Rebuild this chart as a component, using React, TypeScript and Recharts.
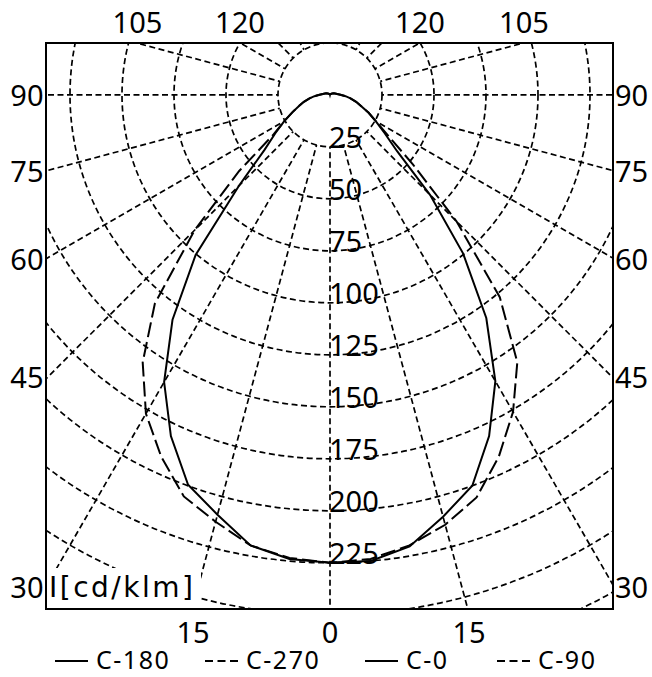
import React from 'react';
import { RadarChart, Radar, PolarGrid, PolarAngleAxis, PolarRadiusAxis } from 'recharts';

// gamma angles (deg from nadir) and intensities in cd/klm
const GAMMA = [0, 5, 10, 15, 20, 25, 30, 35, 40, 45, 50, 55, 60, 65, 70, 75, 80, 85, 90, 100, 110, 120, 135, 150, 165, 180];
const C0 = [225, 225, 220.5, 210, 200, 181, 159, 131, 99.5, 68, 42, 32, 25.5, 20.5, 16, 13, 10, 7.5, 5, 3, 2, 1.2, 0.6, 0.3, 0.1, 0];
const C90 = [225, 224, 220, 214, 206, 192, 176, 157, 127, 86, 52, 34, 25.5, 20.5, 16, 13, 10, 7.5, 5, 3, 2, 1.2, 0.6, 0.3, 0.1, 0];
const C180 = [225, 224, 220, 209, 199.5, 181, 159.5, 132, 100.5, 62, 41, 32, 25.5, 20, 16, 13, 10, 7.5, 5, 3, 2, 1.2, 0.6, 0.3, 0.1, 0];
const C270 = [225, 223.5, 220, 212.5, 205.5, 192, 177, 157, 131, 92, 57, 33, 25.5, 20, 16, 13, 10, 7.5, 5, 3, 2, 1.2, 0.6, 0.3, 0.1, 0];

const RADIUS_TICKS = [25, 50, 75, 100, 125, 150, 175, 200, 225, 250, 275, 300];
const ANGLE_TICKS = [-180, -165, -150, -135, -120, -105, -90, -75, -60, -45, -30, -15, 0, 15, 30, 45, 60, 75, 90, 105, 120, 135, 150, 165];

const SIDE_LABELS = ['90', '75', '60', '45', '30'];
const TOP_LABELS = ['105', '120', '120', '105'];
const BOTTOM_LABELS = ['15', '0', '15'];

const LEGEND = [
    { label: 'C-180', dashed: false },
    { label: 'C-270', dashed: true },
    { label: 'C-0', dashed: false },
    { label: 'C-90', dashed: true },
];

// one closed loop per plane: left half (negative angle) C-180 / C-270, right half C-0 / C-90
const rows = [
    ...GAMMA.slice(1).map((g, i) => ({ a: -g, solid: C180[i + 1], dashed: C270[i + 1] })).reverse(),
    { a: 0, solid: C0[0], dashed: C90[0] },
    ...GAMMA.slice(1).map((g, i) => ({ a: g, solid: C0[i + 1], dashed: C90[i + 1] })),
];

const FONT = '"Noto Sans", sans-serif';
const GRID_DASH = '6 3.5';

const renderRadiusTick = (p: any) => {
    if (p.payload.value > 225) return <g />;
    return (
        <text x={p.x - 1} y={p.y + 1.5} fontSize={29} fontFamily={FONT} fill="#000" textAnchor="start">
            {p.payload.value}
        </text>
    );
};

export default function App() {
    return (
        <div style={{ position: 'relative', width: 652, height: 677, background: '#fff' }}>
            <style>{'html,body{margin:0;padding:0;overflow:hidden;background:#fff}'}</style>
            <div style={{ position: 'absolute', left: 45, top: 42, width: 569, height: 568, border: '2px solid #000', boxSizing: 'border-box', overflow: 'hidden' }}>
                <RadarChart
                    width={565}
                    height={564}
                    data={rows}
                    cx={283}
                    cy={50.8}
                    outerRadius={624}
                    startAngle={-270}
                    endAngle={90}
                    margin={{ top: 0, right: 0, bottom: 0, left: 0 }}
                >
                    <PolarGrid gridType="circle" radialLines={false} stroke="#000" strokeWidth={1.7} strokeDasharray={GRID_DASH} />
                    <PolarAngleAxis
                        dataKey="a"
                        type="number"
                        domain={[-180, 180]}
                        ticks={ANGLE_TICKS}
                        tick={false}
                        axisLine={false}
                        orientation="inner"
                        tickSize={572}
                        stroke="#000"
                        tickLine={{ stroke: '#000', strokeWidth: 1.7, strokeDasharray: GRID_DASH }}
                    />
                    <PolarRadiusAxis
                        angle={-90}
                        type="number"
                        domain={[0, 300]}
                        ticks={RADIUS_TICKS}
                        axisLine={false}
                        tickLine={false}
                        tick={renderRadiusTick}
                    />
                    <Radar dataKey="solid" stroke="#000" strokeWidth={2} fill="none" fillOpacity={0} dot={false} isAnimationActive={false} />
                    <Radar dataKey="dashed" stroke="#000" strokeWidth={2} strokeDasharray="15 5" fill="none" fillOpacity={0} dot={false} isAnimationActive={false} />
                </RadarChart>
            </div>

            {/* labels outside the frame + legend */}
            <svg width={652} height={677} style={{ position: 'absolute', left: 0, top: 0, pointerEvents: 'none' }}>
                <g fill="#000" fontFamily={FONT} fontSize={29}>
                    {TOP_LABELS.map((t, i) => (
                        <text key={'t' + i} x={[137.5, 240, 420, 524][i]} y={32.5} textAnchor="middle">{t}</text>
                    ))}
                    {SIDE_LABELS.map((t, i) => (
                        <text key={'l' + i} x={43.5} y={[106, 181.5, 270, 388, 597.5][i]} textAnchor="end">{t}</text>
                    ))}
                    {SIDE_LABELS.map((t, i) => (
                        <text key={'r' + i} x={615} y={[106, 181.5, 270, 388, 597.5][i]} textAnchor="start">{t}</text>
                    ))}
                    {BOTTOM_LABELS.map((t, i) => (
                        <text key={'b' + i} x={[193, 330, 469][i]} y={642.5} textAnchor="middle">{t}</text>
                    ))}

                    <rect x={47} y={568} width={154} height={40} fill="#fff" />
                    <text x={49} y={597} fontFamily='"DejaVu Sans", sans-serif' fontSize={28} letterSpacing={2.5}>I[cd/klm]</text>

                    {LEGEND.map((s, i) => {
                        const x0 = [55, 205, 365, 497][i];
                        return (
                            <g key={'lg' + i}>
                                <line x1={x0} x2={x0 + 33} y1={661} y2={661} stroke="#000" strokeWidth={2} strokeDasharray={s.dashed ? '8 4.5' : undefined} />
                                <text x={x0 + 41} y={669} fontSize={25} letterSpacing={1.5}>{s.label}</text>
                            </g>
                        );
                    })}
                </g>
            </svg>
        </div>
    );
}
